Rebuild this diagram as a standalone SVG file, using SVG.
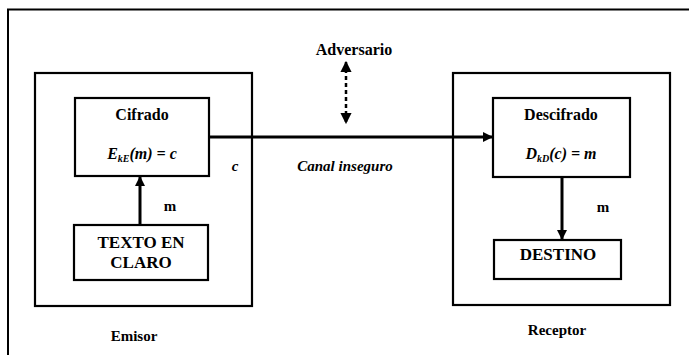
<svg xmlns="http://www.w3.org/2000/svg" width="689" height="355" viewBox="0 0 689 355">
<defs>
<style>
.box{fill:none;stroke:#000;stroke-width:2.2}
.frame{fill:none;stroke:#000;stroke-width:2}
.t{font-family:"Liberation Serif","DejaVu Serif","Times New Roman",serif;font-weight:bold;fill:#000;text-anchor:middle}
.ti{font-family:"Liberation Serif","DejaVu Serif","Times New Roman",serif;font-weight:bold;font-style:italic;fill:#000;text-anchor:middle}
.con{stroke:#000;stroke-width:3;fill:none}
.dash{stroke:#000;stroke-width:2.5;fill:none;stroke-dasharray:4 3}
</style>
<marker id="ah" viewBox="0 0 10 10" refX="9" refY="5" markerWidth="3.4" markerHeight="3.4" orient="auto-start-reverse" markerUnits="strokeWidth">
<path d="M0,0 L10,5 L0,10 z" fill="#000"/>
</marker>
<marker id="ahd" viewBox="0 0 10 10" refX="9" refY="5" markerWidth="4.6" markerHeight="4.6" orient="auto-start-reverse" markerUnits="strokeWidth">
<path d="M0,0 L10,5 L0,10 z" fill="#000"/>
</marker>
</defs>
<rect width="689" height="355" fill="#fff"/>
<path class="frame" d="M8,355 L8,9.5 L689,9.5"/>

<g id="emisor">
<rect class="box" x="35" y="73" width="217" height="233"/>
<text class="t" x="134" y="341" font-size="15">Emisor</text>
</g>
<g id="cifrado">
<rect class="box" x="75" y="98" width="134" height="78"/>
<text class="t" x="142" y="120" font-size="16">Cifrado</text>
<text class="ti" x="142" y="159" font-size="16">E<tspan font-size="10" dy="3">kE</tspan><tspan dy="-3">(m) = c</tspan></text>
</g>
<g id="texto">
<rect class="box" x="74" y="225" width="134" height="55"/>
<text class="t" x="141" y="248" font-size="17">TEXTO EN</text>
<text class="t" x="141" y="268" font-size="17">CLARO</text>
</g>

<g id="receptor">
<rect class="box" x="453" y="73" width="217" height="232"/>
<text class="t" x="557" y="335" font-size="15">Receptor</text>
</g>
<g id="descifrado">
<rect class="box" x="493" y="98" width="137" height="79"/>
<text class="t" x="561" y="120" font-size="16">Descifrado</text>
<text class="ti" x="561" y="159" font-size="16">D<tspan font-size="10" dy="3">kD</tspan><tspan dy="-3">(c) = m</tspan></text>
</g>
<g id="destino">
<rect class="box" x="494" y="240" width="127" height="39"/>
<text class="t" x="558" y="260" font-size="17">DESTINO</text>
</g>

<g id="adversario">
<text class="t" x="354" y="55" font-size="16">Adversario</text>
</g>

<g id="connectors">
<line class="con" x1="209" y1="137" x2="492" y2="137" marker-end="url(#ah)"/>
<line class="con" x1="140" y1="225" x2="140" y2="177" marker-end="url(#ah)"/>
<line class="con" x1="562" y1="177" x2="562" y2="239" marker-end="url(#ah)"/>
<line class="dash" x1="346" y1="62" x2="346" y2="123" marker-start="url(#ahd)" marker-end="url(#ahd)"/>
<text class="ti" x="235" y="171" font-size="15">c</text>
<text class="ti" x="345" y="171" font-size="15">Canal inseguro</text>
<text class="t" x="170" y="211" font-size="15">m</text>
<text class="t" x="603" y="212" font-size="15">m</text>
</g>
</svg>
